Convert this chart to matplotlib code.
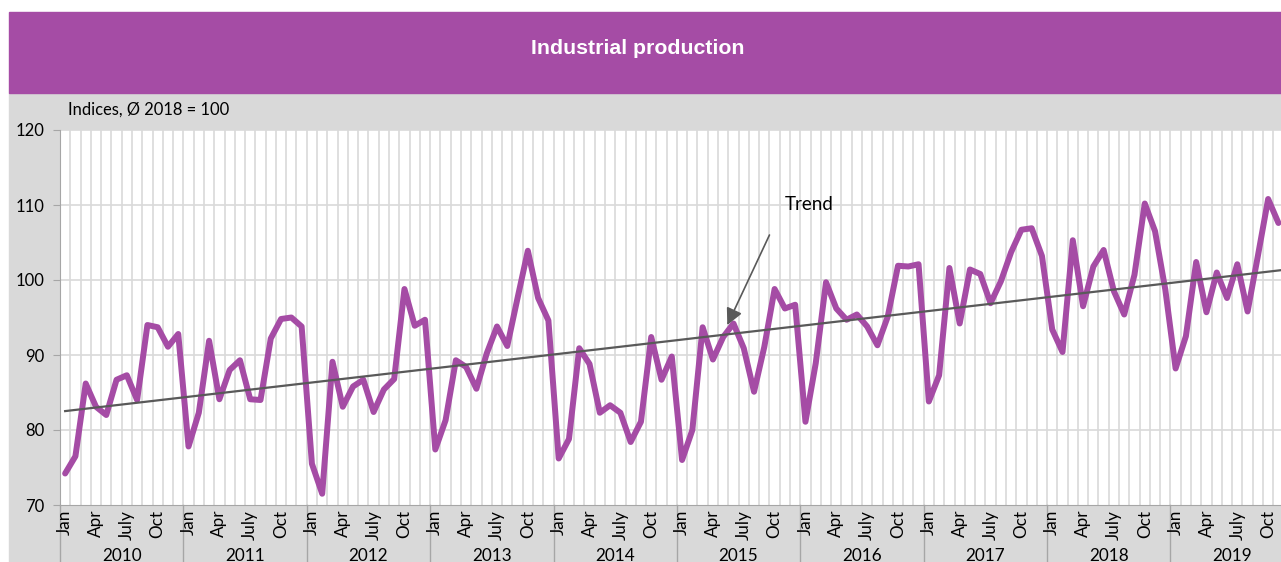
import numpy as np
import matplotlib
matplotlib.use('Agg')
import matplotlib.pyplot as plt
from matplotlib.patches import Rectangle

# monthly index values, Jan 2010 - Nov 2019
v2010 = [74.2, 76.5, 86.2, 83.1, 82.0, 86.7, 87.3, 84.0, 94.0, 93.7, 91.1, 92.8]
v2011 = [77.8, 82.3, 91.9, 84.1, 88.0, 89.3, 84.1, 84.0, 92.2, 94.8, 95.0, 93.8]
v2012 = [75.5, 71.5, 89.1, 83.1, 85.8, 86.7, 82.4, 85.4, 86.8, 98.8, 93.9, 94.7]
v2013 = [77.4, 81.3, 89.3, 88.4, 85.5, 90.2, 93.8, 91.2, 97.6, 103.9, 97.6, 94.6]
v2014 = [76.2, 78.8, 90.9, 88.8, 82.3, 83.3, 82.3, 78.4, 81.1, 92.4, 86.7, 89.8]
v2015 = [76.0, 80.0, 93.7, 89.4, 92.4, 94.2, 90.9, 85.1, 91.1, 98.8, 96.2, 96.7]
v2016 = [81.1, 88.9, 99.7, 96.2, 94.7, 95.4, 93.8, 91.3, 95.1, 101.9, 101.8, 102.1]
v2017 = [83.8, 87.3, 101.6, 94.2, 101.4, 100.8, 96.9, 99.8, 103.7, 106.7, 106.9, 103.2]
v2018 = [93.4, 90.4, 105.3, 96.5, 101.8, 104.0, 98.5, 95.4, 100.7, 110.2, 106.5, 98.7]
v2019 = [88.2, 92.5, 102.4, 95.7, 101.0, 97.6, 102.1, 95.8, 103.2, 110.8, 107.6]

years = ['2010', '2011', '2012', '2013', '2014', '2015', '2016', '2017', '2018', '2019']
month_labels = {0: 'Jan', 3: 'Apr', 6: 'July', 9: 'Oct'}

values = np.array(v2010 + v2011 + v2012 + v2013 + v2014 + v2015 + v2016 + v2017 + v2018 + v2019)
idx = np.arange(len(values))

PURPLE = '#A54CA5'
GREY_BG = '#D9D9D9'
GRID = '#D9D9D9'
DARK = '#595959'

plt.rcParams['font.family'] = ['Lato', 'DejaVu Sans']

W, H = 1281, 562
fig = plt.figure(figsize=(W / 100, H / 100), dpi=100)
fig.patch.set_facecolor('white')

# grey background and purple title band
fig.patches.append(Rectangle((9 / W, 0), 1 - 9 / W, (H - 93) / H,
                             transform=fig.transFigure, color=GREY_BG, zorder=-2))
fig.patches.append(Rectangle((9 / W, (H - 93) / H), 1 - 9 / W, 81 / H,
                             transform=fig.transFigure, color=PURPLE, zorder=-2))
fig.text(638 / W, 1 - 48 / H, 'Industrial production', color='white',
         fontsize=15.3, fontweight='bold', family='Liberation Sans',
         ha='center', va='center')
fig.text(68 / W, 1 - 110 / H, 'Indices, Ø 2018 = 100', fontsize=11.9,
         ha='left', va='center', color='black')

ax = fig.add_axes([60 / W, (H - 505) / H, (W - 60) / W, (505 - 130) / H])
ax.set_facecolor('white')

ax.set_xlim(-0.5, 118.25)
ax.set_ylim(70, 120)

# gridlines
for g in np.arange(0.5, 119, 1):
    ax.axvline(g, color=GRID, lw=1.2, zorder=1)
for yv in [80, 90, 100, 110, 120]:
    ax.axhline(yv, color=GRID, lw=1.2, zorder=1)

ax.plot(idx, values, color=PURPLE, lw=4.3, solid_joinstyle='round',
        solid_capstyle='round', zorder=3, clip_on=False)

# linear trend
coef = np.polyfit(idx, values, 1)
tx = np.array([0, 118.25])
ax.plot(tx, np.polyval(coef, tx), color=DARK, lw=1.6, zorder=4)

ax.annotate('', xy=(64.4, 94.0), xytext=(68.5, 106.0),
            arrowprops=dict(arrowstyle='-|>,head_length=1.0,head_width=0.5',
                            color=DARK, lw=1.2, shrinkA=0, shrinkB=0), zorder=5)
ax.text(72.4, 110.0, 'Trend', fontsize=13.5, ha='center', va='center')

for s in ['top', 'right']:
    ax.spines[s].set_visible(False)
ax.spines['left'].set_color('#A6A6A6')
ax.spines['bottom'].set_color('#A6A6A6')

ax.set_yticks([70, 80, 90, 100, 110, 120])
ax.tick_params(axis='y', labelsize=12, colors='#A6A6A6', labelcolor='black',
               length=5, pad=6)
ax.set_xticks([])

# month and year category labels
trans = ax.get_xaxis_transform()
for i in idx:
    m = i % 12
    if m in month_labels:
        ax.text(i, -0.013, month_labels[m], rotation=90, ha='center', va='top',
                fontsize=12.3, transform=trans, clip_on=False)
for k, yr in enumerate(years):
    ax.text(k * 12 + 5.5, -0.135, yr, ha='center', va='center', fontsize=12.3,
            transform=trans, clip_on=False)
    ax.plot([k * 12 - 0.5] * 2, [0, -0.16], color='#A6A6A6', lw=1,
            transform=trans, clip_on=False)

fig.savefig('out.png', dpi=100)
